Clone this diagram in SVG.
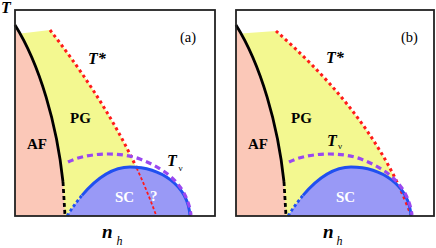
<svg xmlns="http://www.w3.org/2000/svg" xmlns:xlink="http://www.w3.org/1999/xlink" width="436" height="248" viewBox="0 0 436 248">
  <style>
    .pink { fill: #FBC8B8; stroke: none; }
    .yellow { fill: #F3F890; stroke: none; }
    .dome { fill: #9999F6; stroke: none; }
    .af { fill: none; stroke: #000; stroke-width: 2.8; }
    .afdash { fill: none; stroke: #000; stroke-width: 2.8; stroke-dasharray: 4 3; }
    .tstar { fill: none; stroke: #FF1A1A; stroke-width: 3; stroke-dasharray: 3 3.2; }
    .tstar-thin { fill: none; stroke: #FF1A1A; stroke-width: 1.8; stroke-dasharray: 3 2.2; }
    .scline { fill: none; stroke: #2050F0; stroke-width: 3; }
    .scdot { fill: none; stroke: #2050F0; stroke-width: 2.8; stroke-dasharray: 3 2.5; }
    .tv { fill: none; stroke: #9A48F0; stroke-width: 3.2; stroke-dasharray: 6 4; }
    .frame { fill: none; stroke: #222; stroke-width: 1.8; }
    .lbl { font-family: "Liberation Serif", "Times New Roman", serif; font-weight: bold; fill: #000; }
    .it { font-style: italic; }
    .reg { font-family: "Liberation Serif", "Times New Roman", serif; fill: #000; }
    .white { fill: #fff; }
  </style>
  <defs>
    <path id="afRegion" d="M15,25 C40,65 57,125 63,182 L65,216 L15,216 Z"/>
    <path id="afLine" d="M15,25 C40,65 57,125 63,182"/>
    <path id="afDash" d="M63,182 L65,216"/>
    <path id="domeFill" d="M67,216 Q98.5,167 130,167 C160,167 188,185 190,216 Z"/>
    <path id="domeDot" d="M67,216 Q74.5,204.3 82,195.4"/>
    <path id="domeLine" d="M82,195.4 Q106,167 130,167 C160,167 188,185 190,216"/>
    <path id="tvLine" d="M68,162 C86,153 118,151 140,159 C168,170 187,186 191,215"/>
  </defs>

  <rect x="0" y="0" width="436" height="248" fill="#fff"/>

  <!-- Panel (a) -->
  <g id="panel-a">
    <g id="a-pg-region">
      <path class="yellow" d="M15,216 L15,34 L25,33 L50,30 C77.37,65.19 110.86,112.61 136.59,167.96 C143.76,183.39 150.33,199.43 156,216 Z"/>
    </g>
    <g id="a-af-region">
      <use href="#afRegion" class="pink"/>
    </g>
    <g id="a-sc-region">
      <use href="#domeFill" class="dome"/>
    </g>
    <g id="a-lines">
      <use href="#afLine" class="af"/>
      <use href="#afDash" class="afdash"/>
      <path class="tstar" d="M50,30 C77.37,65.19 110.86,112.61 136.59,167.96"/>
      <path class="tstar-thin" d="M136.59,167.96 C143.76,183.39 150.33,199.43 156,215"/>
      <use href="#domeDot" class="scdot"/>
      <use href="#domeLine" class="scline"/>
      <use href="#tvLine" class="tv"/>
    </g>
    <rect class="frame" x="15" y="10" width="200" height="206"/>
    <g id="a-labels">
      <text class="reg" x="180" y="42" font-size="14.5">(a)</text>
      <text class="lbl it" x="88" y="64" font-size="16">T*</text>
      <text class="lbl" x="70" y="123" font-size="15">PG</text>
      <text class="lbl" x="27" y="149" font-size="15">AF</text>
      <text class="lbl white" x="115" y="202" font-size="15">SC</text>
      <text class="lbl white" x="150" y="201" font-size="15">?</text>
      <text class="lbl it" x="167" y="166" font-size="16">T</text>
      <text class="reg" x="178.5" y="171" font-size="9">ν</text>
      <text class="lbl it" x="102" y="238" font-size="19">n</text>
      <text class="reg it" x="116.5" y="245" font-size="12">h</text>
    </g>
  </g>

  <!-- Panel (b) -->
  <g id="panel-b">
    <g id="b-pg-region">
      <path class="yellow" d="M236,216 L236,34 L248,33 L276,31 C320,70 380,130 411,216 Z"/>
    </g>
    <g id="b-af-region">
      <use href="#afRegion" class="pink" transform="translate(221,0)"/>
    </g>
    <g id="b-sc-region">
      <use href="#domeFill" class="dome" transform="translate(221,0)"/>
    </g>
    <g id="b-lines">
      <use href="#afLine" class="af" transform="translate(221,0)"/>
      <use href="#afDash" class="afdash" transform="translate(221,0)"/>
      <path class="tstar" d="M276,31 C320,70 380,130 411,215"/>
      <use href="#domeDot" class="scdot" transform="translate(221,0)"/>
      <use href="#domeLine" class="scline" transform="translate(221,0)"/>
      <use href="#tvLine" class="tv" transform="translate(221,0)"/>
    </g>
    <rect class="frame" x="236" y="10" width="198" height="206"/>
    <g id="b-labels">
      <text class="reg" x="401" y="42" font-size="14.5">(b)</text>
      <text class="lbl it" x="326" y="63" font-size="16">T*</text>
      <text class="lbl" x="291" y="123" font-size="15">PG</text>
      <text class="lbl" x="248" y="149" font-size="15">AF</text>
      <text class="lbl white" x="336" y="202" font-size="15">SC</text>
      <text class="lbl it" x="327" y="146" font-size="16">T</text>
      <text class="reg" x="338" y="149" font-size="9">ν</text>
      <text class="lbl it" x="323" y="238" font-size="19">n</text>
      <text class="reg it" x="336.5" y="245" font-size="12">h</text>
    </g>
  </g>

  <text id="axis-T" class="lbl it" x="1" y="13" font-size="16">T</text>
</svg>
